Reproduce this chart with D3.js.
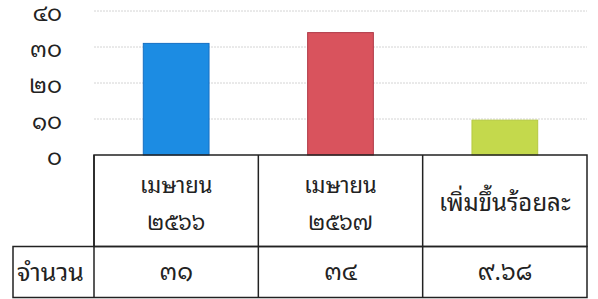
<!DOCTYPE html>
<html>
<head>
<meta charset="utf-8">
<script src="https://cdn.jsdelivr.net/npm/d3@7"></script>
<style>
  body { margin: 0; background: #fff; }
  svg text { font-family: "Noto Sans Thai Looped", "Noto Serif Thai", "Loma", "Garuda", "Norasi", "Noto Sans Thai", "Noto Sans", sans-serif; fill: #222; }
</style>
</head>
<body>
<div id="chart"></div>
<script>
// data
var categories = ["apr66", "apr67", "pct"];
var headLines = [["เมษายน", "๒๕๖๖"], ["เมษายน", "๒๕๖๗"], ["เพิ่มขึ้นร้อยละ"]];
var values = [31, 34, 9.68];
var valueLabels = ["๓๑", "๓๔", "๙.๖๘"];
var rowLabel = "จำนวน";
var yTicks = [0, 10, 20, 30, 40];
var yTickLabels = ["๐", "๑๐", "๒๐", "๓๐", "๔๐"];
var barColors = ["#1c8ce3", "#d9535d", "#c4d94c"];
var barStrokes = ["#1670c4", "#b03a48", "#b6c940"];

var W = 598, H = 299;
var plot = { left: 94, right: 587, top: 11, base: 155 };
var table = { row1: 155, row2: 246.5, bottom: 297.5, labelLeft: 13 };

var svg = d3.select("#chart").append("svg")
    .attr("width", W)
    .attr("height", H);

// scales
var y = d3.scaleLinear()
    .domain([0, 40])
    .range([plot.base, plot.top]);

var cols = d3.scaleBand()
    .domain(categories)
    .range([plot.left, plot.right])
    .padding(0);

var x = d3.scaleBand()
    .domain(categories)
    .range([plot.left, plot.right])
    .paddingInner(0.6)
    .paddingOuter(0.3);

// gridlines
svg.selectAll("line.grid")
    .data(yTicks.filter(function(d) { return d > 0; }))
    .enter().append("line")
    .attr("class", "grid")
    .attr("x1", plot.left)
    .attr("x2", plot.right)
    .attr("y1", function(d) { return y(d); })
    .attr("y2", function(d) { return y(d); })
    .attr("stroke", "#d4d4d4")
    .attr("stroke-width", 1)
    .attr("stroke-dasharray", "2,1");

// y tick labels
svg.selectAll("text.ytick")
    .data(yTicks)
    .enter().append("text")
    .attr("class", "ytick")
    .attr("x", 62)
    .attr("y", function(d) { return y(d) + 10; })
    .attr("text-anchor", "end")
    .attr("font-size", "23px")
    .text(function(d, i) { return yTickLabels[i]; });

// bars
svg.selectAll("rect.bar")
    .data(values)
    .enter().append("rect")
    .attr("class", "bar")
    .attr("x", function(d, i) { return x(categories[i]); })
    .attr("y", function(d) { return y(d); })
    .attr("width", x.bandwidth())
    .attr("height", function(d) { return y(0) - y(d); })
    .attr("fill", function(d, i) { return barColors[i]; })
    .attr("stroke", function(d, i) { return barStrokes[i]; })
    .attr("stroke-width", 1);

// table
var g = svg.append("g")
    .attr("fill", "none")
    .attr("stroke", "#222")
    .attr("stroke-width", 1.5);

g.append("rect")
    .attr("x", plot.left).attr("y", table.row1)
    .attr("width", plot.right - plot.left)
    .attr("height", table.row2 - table.row1);

g.append("rect")
    .attr("x", table.labelLeft).attr("y", table.row2)
    .attr("width", plot.right - table.labelLeft)
    .attr("height", table.bottom - table.row2);

g.selectAll("line.col")
    .data(categories)
    .enter().append("line")
    .attr("class", "col")
    .attr("x1", function(d) { return cols(d); })
    .attr("x2", function(d) { return cols(d); })
    .attr("y1", table.row1)
    .attr("y2", table.bottom);

// header texts
svg.selectAll("g.head")
    .data(headLines)
    .enter().append("g")
    .attr("class", "head")
    .each(function(lines, i) {
        var cx = cols(categories[i]) + cols.bandwidth() / 2;
        var base0 = lines.length > 1 ? 193 : 211;
        d3.select(this).selectAll("text")
            .data(lines)
            .enter().append("text")
            .attr("x", cx)
            .attr("y", function(d, j) { return base0 + j * 37; })
            .attr("text-anchor", "middle")
            .attr("font-size", lines.length > 1 ? "22px" : "24px")
            .text(function(d) { return d; });
    });

// value row
svg.selectAll("text.val")
    .data(valueLabels)
    .enter().append("text")
    .attr("class", "val")
    .attr("x", function(d, i) { return cols(categories[i]) + cols.bandwidth() / 2; })
    .attr("y", 280)
    .attr("text-anchor", "middle")
    .attr("font-size", "24px")
    .text(function(d) { return d; });

svg.append("text")
    .attr("x", (table.labelLeft + plot.left) / 2 - 3)
    .attr("y", 281)
    .attr("text-anchor", "middle")
    .attr("font-size", "25px")
    .text(rowLabel);
</script>
</body>
</html>
